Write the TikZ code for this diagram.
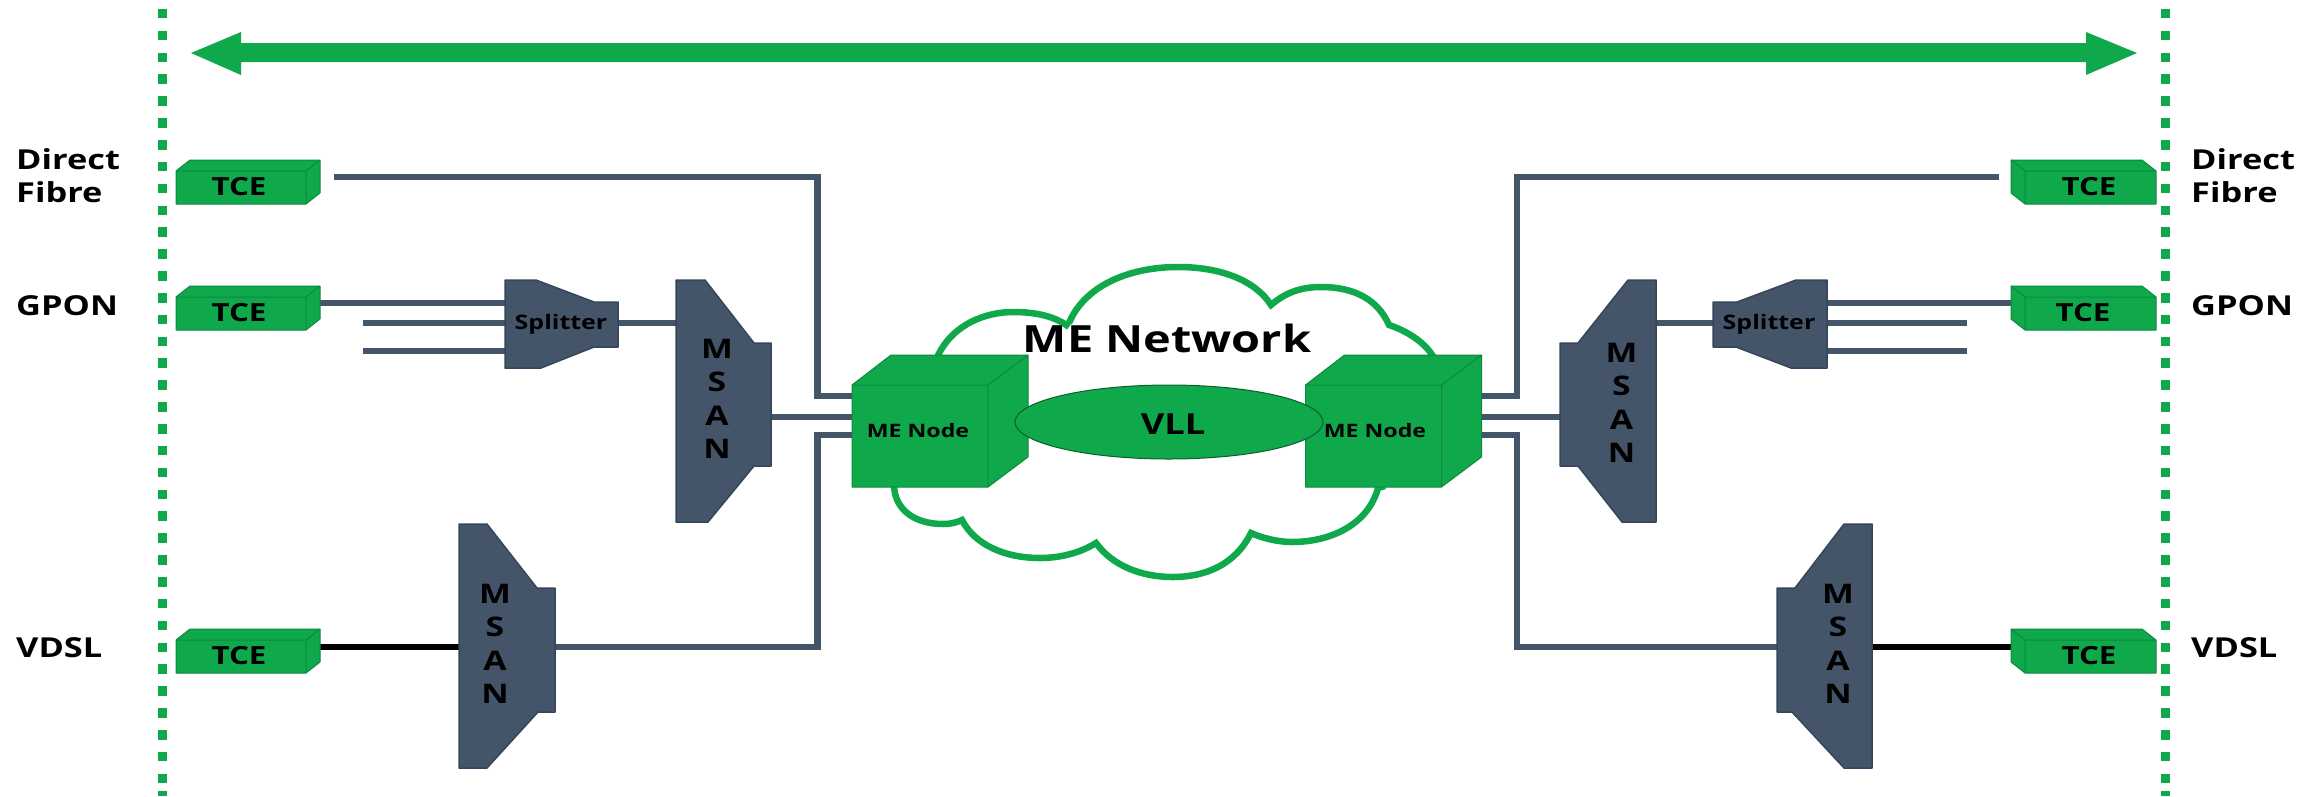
\documentclass[tikz,border=0pt]{standalone}
\usepackage{fontspec}
\setmainfont[FakeStretch=1.25]{Open Sans}
\definecolor{btgreen}{HTML}{0FA84A}
\definecolor{btedge}{HTML}{0C8A3F}
\definecolor{slate}{HTML}{44556A}
\definecolor{slateedge}{HTML}{35465A}
\tikzset{
  x=1pt,y=-1pt,
  wire/.style={draw=slate,line width=6.5pt},
  copper/.style={draw=black,line width=6.5pt},
  greenface/.style={fill=btgreen,draw=btedge,line width=1pt,line join=round},
  slateface/.style={fill=slate,draw=slateedge,line width=1.5pt,line join=round},
  boundary/.style={draw=btgreen,line width=9pt,dash pattern=on 9.6pt off 12.25pt},
  cloudline/.style={draw=btgreen,line width=6.5pt,line join=miter},
  sidelabel/.style={font=\bfseries\fontsize{27.5}{33}\selectfont,anchor=west,inner sep=0pt,align=left,text=black},
  boxlabel/.style={font=\bfseries\fontsize{25}{27}\selectfont,inner sep=0pt,text=black},
  smalllabel/.style={font=\bfseries\fontsize{20}{22}\selectfont,inner sep=0pt,text=black},
  nodelabel/.style={font=\bfseries\fontsize{18.5}{22}\selectfont,inner sep=0pt,text=black},
  vlabel/.style={font=\bfseries\fontsize{27}{33.5}\selectfont,inner sep=0pt,text=black,align=center},
}
% TCE facing right: #1 name, #2 top y
\newcommand{\tceleft}[2]{%
  \begin{scope}[shift={(0,#2)}]
    \fill[greenface] (176,11) -- (190,0) -- (320,0) -- (320,33) -- (306,44) -- (176,44) -- cycle;
    \draw[greenface,fill=none] (176,11) -- (306,11) -- (320,0) (306,11) -- (306,44);
    \node[boxlabel] (#1) at (239,27) {TCE};
  \end{scope}}
% TCE facing left: #1 name, #2 top y, #3 text x
\newcommand{\tceright}[3]{%
  \begin{scope}[shift={(0,#2)}]
    \fill[greenface] (2011,0) -- (2142,0) -- (2156,11) -- (2156,44) -- (2025,44) -- (2011,33) -- cycle;
    \draw[greenface,fill=none] (2011,0) -- (2025,11) -- (2156,11) (2025,11) -- (2025,44);
    \node[boxlabel] (#1) at (#3,27) {TCE};
  \end{scope}}
% ME node: #1 name, #2 front-left x, #3 text x
\newcommand{\menode}[3]{%
  \begin{scope}[shift={(#2,0)}]
    \fill[greenface] (0,385) -- (39,355) -- (176,355) -- (176,457) -- (136,487) -- (0,487) -- cycle;
    \draw[greenface,fill=none,draw=btedge] (0,385) -- (136,385) -- (176,355) (136,385) -- (136,487);
  \end{scope}
  \coordinate (#1-anchor) at (#3,431);}
\begin{document}
\begin{tikzpicture}
\useasboundingbox (0,0) rectangle (2323,796);
\clip (0,0) rectangle (2323,796);

% boundaries
\coordinate (bl-top) at (162,-13); \coordinate (bl-bot) at (162,785);
\coordinate (br-top) at (2165,-13); \coordinate (br-bot) at (2165,785);
\coordinate (bl-endA) at (162,790.7); \coordinate (bl-endB) at (162,796);
\coordinate (br-endA) at (2165,790.7); \coordinate (br-endB) at (2165,796);
\draw[boundary] (bl-top) -- (bl-bot);
\draw[boundary] (br-top) -- (br-bot);
\draw[boundary,dash pattern=] (bl-endA) -- (bl-endB);
\draw[boundary,dash pattern=] (br-endA) -- (br-endB);

% span arrow
\fill[btgreen] (191,53) -- (241,32) -- (241,43) -- (2086,43) -- (2086,32) -- (2137,53) -- (2086,75) -- (2086,62) -- (241,62) -- (241,75) -- cycle;

% ports
\coordinate (dfL) at (334,177);   \coordinate (dfR) at (1999,177);
\coordinate (cL1) at (817.5,177); \coordinate (cR1) at (1517,177);
\coordinate (cL2) at (817.5,396); \coordinate (cR2) at (1517,396);
\coordinate (meL1) at (860,396);  \coordinate (meR1) at (1475,396);
\coordinate (meL2) at (860,417);  \coordinate (meR2) at (1475,417);
\coordinate (meL3) at (860,435);  \coordinate (meR3) at (1475,435);
\coordinate (cL3) at (817.5,435); \coordinate (cR3) at (1517,435);
\coordinate (cL4) at (817.5,647); \coordinate (cR4) at (1517,647);
\coordinate (ms1e) at (765,417);  \coordinate (ms3w) at (1566,417);
\coordinate (ms2e) at (550,647);  \coordinate (ms4w) at (1783,647);
\coordinate (ms2w) at (465,647);  \coordinate (ms4e) at (1866,647);
\coordinate (t3L) at (315,647);   \coordinate (t3R) at (2016,647);
\coordinate (t2L) at (315,303);   \coordinate (t2R) at (2016,303);
\coordinate (spLw1) at (510,303); \coordinate (spRe1) at (1822,303);
\coordinate (spLw2) at (510,323); \coordinate (spRe2) at (1822,323);
\coordinate (spLw3) at (510,351); \coordinate (spRe3) at (1822,351);
\coordinate (fL2) at (363,323);   \coordinate (fR2) at (1967,323);
\coordinate (fL3) at (363,351);   \coordinate (fR3) at (1967,351);
\coordinate (spLe) at (612,323);  \coordinate (spRw) at (1719,323);
\coordinate (ms1w) at (682,323);  \coordinate (ms3e) at (1650,323);

% cloud
\draw[cloudline]
  (936,360) .. controls (950,325) and (985,312) .. (1013,312)
  .. controls (1035,312) and (1055,316) .. (1069,327)
  (1069,323) .. controls (1085,285) and (1130,267) .. (1178,267)
  .. controls (1220,267) and (1255,280) .. (1271,305)
  .. controls (1285,293) and (1300,287) .. (1321,287)
  .. controls (1355,287) and (1378,300) .. (1389,325)
  .. controls (1410,332) and (1428,345) .. (1435,360);
\draw[cloudline]
  (1385,486) -- (1378,488) .. controls (1368,525) and (1330,542) .. (1292,542)
  .. controls (1278,542) and (1262,538) .. (1251,533)
  .. controls (1235,565) and (1205,577) .. (1173,577)
  .. controls (1140,577) and (1112,565) .. (1096,543)
  .. controls (1080,553) and (1060,558) .. (1040,558)
  .. controls (1005,558) and (975,545) .. (962,520)
  .. controls (955,523) and (950,524) .. (943,524)
  .. controls (915,524) and (894,510) .. (894,484);

% connectors
\draw[wire,line join=miter] (dfL) -- (cL1) -- (cL2) -- (meL1);
\draw[wire,line join=miter] (dfR) -- (cR1) -- (cR2) -- (meR1);
\draw[wire] (ms1e) -- (meL2);
\draw[wire] (ms3w) -- (meR2);
\draw[wire,line join=miter] (ms2e) -- (cL4) -- (cL3) -- (meL3);
\draw[wire,line join=miter] (ms4w) -- (cR4) -- (cR3) -- (meR3);
\draw[wire] (t2L) -- (spLw1);
\draw[wire] (t2R) -- (spRe1);
\draw[wire] (fL2) -- (spLw2);
\draw[wire] (fR2) -- (spRe2);
\draw[wire] (fL3) -- (spLw3);
\draw[wire] (fR3) -- (spRe3);
\draw[wire] (spLe) -- (ms1w);
\draw[wire] (spRw) -- (ms3e);
\draw[copper] (t3L) -- (ms2w);
\draw[copper] (t3R) -- (ms4e);

% TCE boxes
\tceleft{tceA}{160}
\tceleft{tceB}{286}
\tceleft{tceC}{629}
\tceright{tceD}{160}{2089}
\tceright{tceE}{286}{2083}
\tceright{tceF}{629}{2089}

% splitters
\fill[slateface] (505,280) -- (536,280) -- (594,302) -- (618,302) -- (618,347) -- (594,347) -- (541,368) -- (505,368) -- cycle;
\fill[slateface] (1713,302) -- (1737,302) -- (1796,280) -- (1827,280) -- (1827,368) -- (1791,368) -- (1736,347) -- (1713,347) -- cycle;
\node[smalllabel] (splitL) at (561,324) {Splitter};
\node[smalllabel] (splitR) at (1769,324) {Splitter};

% MSANs
\fill[slateface] (676,280) -- (705,280) -- (754,343) -- (771,343) -- (771,466) -- (754,466) -- (708,522) -- (676,522) -- cycle;
\fill[slateface] (1560,343) -- (1578,343) -- (1628,280) -- (1656,280) -- (1656,522) -- (1622,522) -- (1578,466) -- (1560,466) -- cycle;
\fill[slateface] (459,524) -- (487,524) -- (537,588) -- (555,588) -- (555,712) -- (538,712) -- (487,768) -- (459,768) -- cycle;
\fill[slateface] (1777,588) -- (1795,588) -- (1844,524) -- (1872,524) -- (1872,768) -- (1844,768) -- (1792,712) -- (1777,712) -- cycle;
\node[vlabel] (msanA) at (717,399) {M\\S\\A\\N};
\node[vlabel] (msanB) at (495,644) {M\\S\\A\\N};
\node[vlabel] (msanC) at (1621.5,403) {M\\S\\A\\N};
\node[vlabel] (msanD) at (1838,644) {M\\S\\A\\N};

% ME nodes
\menode{meL}{852}{918}
\menode{meR}{1305.5}{1375}
\node[nodelabel] (meLt) at (meL-anchor) {ME Node};

% VLL
\draw[greenface,draw=btedge!70!black] (1169,422) ellipse [x radius=154,y radius=37];
\node[font=\bfseries\fontsize{29}{31}\selectfont,inner sep=0pt] (vll) at (1173,424) {VLL};
\node[nodelabel] (meRt) at (meR-anchor) {ME Node};

% cloud title
\node[font=\bfseries\fontsize{37.5}{40}\selectfont,inner sep=0pt] (menet) at (1167,338) {ME Network};

% side labels
\node[sidelabel] (lblDL) at (16,175.5) {Direct\\Fibre};
\node[sidelabel] (lblGL) at (16,305.5) {GPON};
\node[sidelabel] (lblVL) at (16,647.5) {VDSL};
\node[sidelabel] (lblDR) at (2191,175.5) {Direct\\Fibre};
\node[sidelabel] (lblGR) at (2191,305.5) {GPON};
\node[sidelabel] (lblVR) at (2191,647.5) {VDSL};
\end{tikzpicture}
\end{document}
